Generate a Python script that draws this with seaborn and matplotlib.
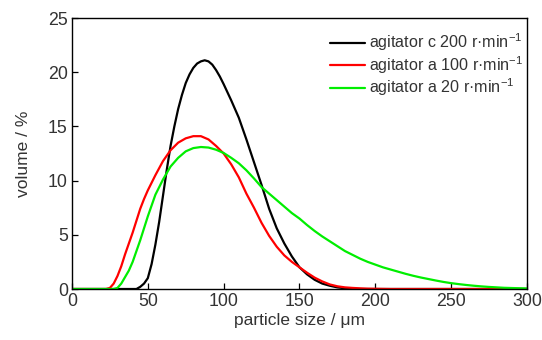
import numpy as np
import pandas as pd
import matplotlib
matplotlib.use('Agg')
import matplotlib.pyplot as plt
import seaborn as sns

# agitator c, 200 r/min : particle size (um) and volume (%)
size_c200 = [0, 42.5, 45, 47.5, 50, 52.5, 55, 57.5, 60, 62.5, 65, 67.5, 70, 72.5, 75, 77.5,
             80, 82.5, 85, 87.5, 90, 92.5, 95, 97.5, 100, 105, 110, 115, 120, 125, 130, 135,
             140, 145, 150, 155, 160, 165, 170, 175, 180, 185, 190, 300]
vol_c200 = [0, 0, 0.2, 0.5, 1.0, 2.3, 4.1, 6.2, 8.6, 11.0, 13.2, 15.0, 16.6, 17.9, 19.0, 19.8,
            20.4, 20.8, 21.0, 21.1, 21.0, 20.7, 20.2, 19.6, 18.9, 17.4, 15.8, 13.8, 11.7, 9.6,
            7.4, 5.6, 4.2, 3.0, 2.0, 1.35, 0.85, 0.5, 0.3, 0.15, 0.07, 0.03, 0, 0]

# agitator a, 100 r/min
size_a100 = [0, 22.5, 25, 27.5, 30, 32.5, 35, 37.5, 40, 42.5, 45, 47.5, 50, 55, 60, 65, 70,
             75, 80, 85, 90, 95, 100, 105, 110, 115, 120, 125, 130, 135, 140, 145, 150, 155,
             160, 165, 170, 175, 180, 185, 190, 195, 200, 210, 300]
vol_a100 = [0, 0, 0.1, 0.5, 1.2, 2.1, 3.2, 4.2, 5.2, 6.3, 7.4, 8.3, 9.1, 10.5, 11.8, 12.8,
            13.5, 13.9, 14.1, 14.1, 13.8, 13.2, 12.5, 11.5, 10.3, 8.8, 7.5, 6.1, 4.9, 3.9,
            3.1, 2.5, 2.0, 1.5, 1.05, 0.7, 0.42, 0.25, 0.15, 0.1, 0.06, 0.03, 0.02, 0, 0]

# agitator a, 20 r/min
size_a20 = [0, 27.5, 30, 32.5, 35, 37.5, 40, 42.5, 45, 47.5, 50, 55, 60, 65, 70, 75, 80, 85,
            90, 95, 100, 105, 110, 115, 120, 125, 130, 135, 140, 145, 150, 155, 160, 165,
            170, 175, 180, 185, 190, 195, 200, 205, 210, 215, 220, 225, 230, 235, 240, 245,
            250, 255, 260, 265, 270, 275, 280, 285, 290, 295, 300]
vol_a20 = [0, 0, 0.1, 0.5, 1.1, 1.7, 2.5, 3.5, 4.5, 5.6, 6.7, 8.7, 10.1, 11.3, 12.1, 12.7,
           13.0, 13.1, 13.05, 12.85, 12.55, 12.1, 11.6, 10.95, 10.2, 9.4, 8.8, 8.2, 7.6, 7.0,
           6.5, 5.9, 5.35, 4.85, 4.4, 3.95, 3.5, 3.15, 2.8, 2.5, 2.25, 2.0, 1.8, 1.6, 1.4,
           1.22, 1.06, 0.92, 0.78, 0.65, 0.54, 0.45, 0.37, 0.3, 0.24, 0.19, 0.15, 0.11, 0.09,
           0.07, 0.05]

labels = ['agitator c 200 r·min$^{-1}$', 'agitator a 100 r·min$^{-1}$',
          'agitator a 20 r·min$^{-1}$']
colors = ['black', '#ff0000', '#00ee00']

df = pd.concat([
    pd.DataFrame({'size': s, 'vol': v, 'run': lab})
    for s, v, lab in zip([size_c200, size_a100, size_a20],
                         [vol_c200, vol_a100, vol_a20], labels)
])

sns.set_theme(style='ticks')
plt.rcParams['font.family'] = ['Liberation Sans', 'DejaVu Sans']
plt.rcParams['mathtext.fontset'] = 'custom'
plt.rcParams['mathtext.rm'] = 'Liberation Sans'
plt.rcParams['mathtext.it'] = 'Liberation Sans'
tc = '#333333'

fig = plt.figure(figsize=(5.42, 3.4), dpi=100)
ax = fig.add_axes([0.1328, 0.15, 0.8395, 0.797])
sns.lineplot(data=df, x='size', y='vol', hue='run', palette=colors, linewidth=1.6,
             sort=False, ax=ax)

ax.set_xlim(0, 300)
ax.set_ylim(0, 25)
ax.set_xticks(range(0, 301, 50))
ax.set_yticks(range(0, 26, 5))
ax.tick_params(direction='in', length=4, width=0.9, labelsize=12.8, colors='black',
               labelcolor=tc, pad=3)
for s in ax.spines.values():
    s.set_visible(True)
    s.set_linewidth(1.0)
    s.set_color('black')
ax.set_xlabel('particle size / μm', fontsize=12.5, color=tc, labelpad=2)
ax.set_ylabel('volume / %', fontsize=12.5, color=tc, labelpad=12)

leg = ax.legend(loc='upper left', frameon=False, fontsize=11.6, handlelength=2.2,
                handletextpad=0.2, labelspacing=0.05, borderpad=0, borderaxespad=0,
                bbox_to_anchor=(0.567, 0.95))
for t in leg.get_texts():
    t.set_color(tc)

fig.savefig('out.png', dpi=100)
